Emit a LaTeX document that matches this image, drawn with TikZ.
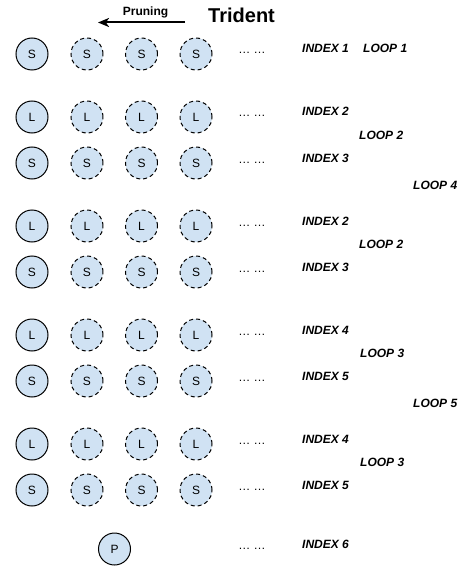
\documentclass[tikz,border=0pt]{standalone}
\usepackage{fontspec}
\setmainfont{Liberation Sans}
\usetikzlibrary{arrows.meta}
\definecolor{cfill}{RGB}{208,226,243}
\begin{document}
\begin{tikzpicture}[x=1pt,y=-1pt,
  basec/.style={circle,minimum size=32pt,inner sep=0pt,fill=cfill,draw=black,line width=1pt,font=\fontsize{12}{14}\selectfont},
  solidc/.style={basec},
  dashc/.style={basec,dash pattern=on 4pt off 3pt},
  lbl/.style={anchor=base west,inner sep=0pt,font=\fontsize{12}{14}\selectfont\bfseries\itshape},
  dotsl/.style={anchor=base,inner sep=0pt,font=\fontsize{12}{14}\selectfont}]
\useasboundingbox (0,0) rectangle (464,567);
% title and pruning arrow
\node[anchor=base west,inner sep=0pt,font=\fontsize{20}{24}\selectfont\bfseries] (title) at (208,23) {Trident};
\node[anchor=base,inner sep=0pt,font=\fontsize{12}{14}\selectfont\bfseries] (pr) at (145.5,16) {Pruning};
\coordinate (as) at (185,22.5);
\coordinate (ae) at (98,22.5);
\draw[line width=2pt,-{Stealth[length=11pt,width=9pt,inset=3pt]}] (as) -- (ae);
% rows
\foreach \n/\l/\y/\i in {1/S/54/1,2/L/117/2,3/S/163/3,4/L/226/2,5/S/272/3,6/L/335/4,7/S/381/5,8/L/444/4,9/S/490/5}{
  \node[solidc] (r\n c1) at (32,\y) {\l};
  \node[dashc] (r\n c2) at (87,\y) {\l};
  \node[dashc] (r\n c3) at (141.5,\y) {\l};
  \node[dashc] (r\n c4) at (196,\y) {\l};
  \node[dotsl] (d\n) at (252,\y) {… …};
  \node[lbl] (i\n) at (302,\y-1) {INDEX \i};
}
\node[solidc] (p) at (114.5,549) {P};
\node[dotsl] (d10) at (252,549) {… …};
\node[lbl] (i10) at (302,548) {INDEX 6};
% loops
\node[lbl] (l1) at (363,53) {LOOP 1};
\node[lbl] (l2a) at (359,139.3) {LOOP 2};
\node[lbl] (l4) at (413,189) {LOOP 4};
\node[lbl] (l2b) at (359,248) {LOOP 2};
\node[lbl] (l3a) at (360,357) {LOOP 3};
\node[lbl] (l5) at (413,407) {LOOP 5};
\node[lbl] (l3b) at (360,466) {LOOP 3};
\end{tikzpicture}
\end{document}
